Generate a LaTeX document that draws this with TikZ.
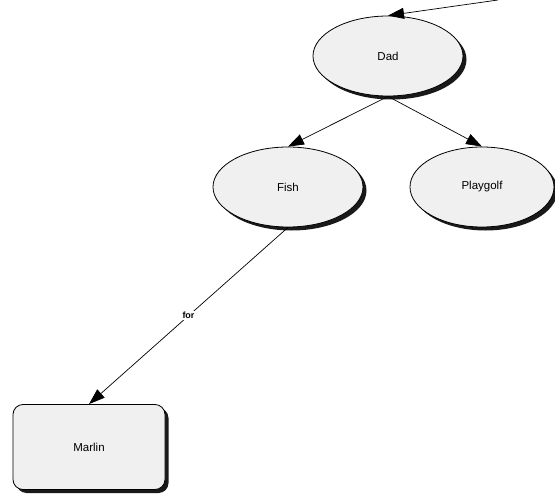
\documentclass[tikz,border=0pt]{standalone}
\usepackage{fontspec}
\setmainfont{Liberation Sans}
\usetikzlibrary{shapes.geometric,arrows.meta,shadows}
\begin{document}
\begin{tikzpicture}[x=1pt,y=-1pt,
  shad/.style={drop shadow={shadow xshift=3.5pt,shadow yshift=-3.5pt,fill=black!90,opacity=1}},
  oval/.style={ellipse,draw=black,line width=0.8pt,fill=black!6,shad,inner sep=0pt,
    minimum width=150pt,minimum height=80pt,font=\fontsize{11.5}{13}\selectfont},
  box/.style={rectangle,rounded corners=10pt,draw=black,line width=0.8pt,fill=black!6,shad,
    minimum width=152pt,minimum height=85pt,font=\fontsize{11.5}{13}\selectfont},
  conn/.style={draw=black,line width=0.7pt,-{Triangle[length=16pt,width=11pt]}},
  lbl/.style={fill=white,inner sep=1pt,font=\fontsize{9}{11}\selectfont\bfseries}]
\useasboundingbox (0,0) rectangle (555,495);
\node[oval] (dad) at (388,56) {Dad};
\node[oval] (fish) at (288,187) {Fish};
\node[oval,minimum width=144pt] (golf) at (482,187) {Playgolf};
\node[box] (marlin) at (89,447) {Marlin};
\coordinate (in) at (498,0);
\draw[conn] (in) -- (dad.north);
\draw[conn] (dad.south) -- (fish.north);
\draw[conn] (dad.south) -- (golf.north);
\draw[conn] (fish.south) -- node[lbl,pos=0.5] {for} (marlin.north);
\end{tikzpicture}
\end{document}
